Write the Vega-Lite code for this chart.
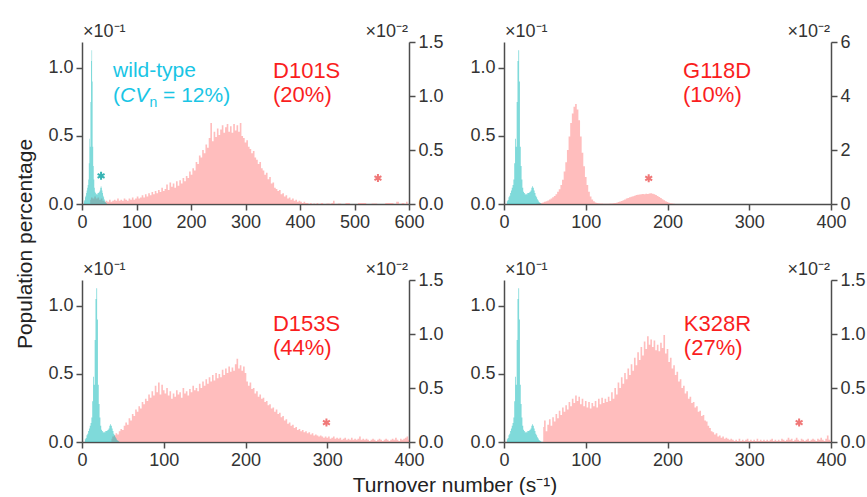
{
"$schema": "https://vega.github.io/schema/vega-lite/v6.json",
"padding": {"left": 14, "top": 23, "right": 0, "bottom": 0},
"background": "white",
"config": {
  "font": "Liberation Sans",
  "view": {"stroke": null},
  "axis": {"grid": false, "domainColor": "#4d4d4d", "domainWidth": 1.5, "tickColor": "#4d4d4d", "tickWidth": 1.5, "tickSize": 6, "labelFont": "Liberation Sans", "labelFontSize": 18, "labelColor": "#333333", "labelPadding": 3, "labelFlush": false, "labelOverlap": false, "titleFont": "Liberation Sans", "titleFontSize": 21, "titleFontWeight": "normal", "titleColor": "#222222"}
},
"datasets": {
"wt": [{"x":3,"y":0},{"x":4,"y":0.02},{"x":5,"y":0.03},{"x":6,"y":0.05},{"x":7,"y":0.06},{"x":8,"y":0.08},{"x":9,"y":0.1},{"x":10,"y":0.12},{"x":11,"y":0.14},{"x":12,"y":0.18},{"x":13,"y":0.3},{"x":14,"y":0.48},{"x":15,"y":0.42},{"x":16,"y":0.75},{"x":17,"y":1.05},{"x":18,"y":1.13},{"x":19,"y":0.9},{"x":20,"y":0.42},{"x":21,"y":0.28},{"x":22,"y":0.18},{"x":23,"y":0.12},{"x":24,"y":0.09},{"x":25,"y":0.08},{"x":26,"y":0.07},{"x":27,"y":0.075},{"x":28,"y":0.07},{"x":29,"y":0.08},{"x":30,"y":0.08},{"x":31,"y":0.085},{"x":32,"y":0.09},{"x":33,"y":0.1},{"x":34,"y":0.12},{"x":35,"y":0.13},{"x":36,"y":0.12},{"x":37,"y":0.1},{"x":38,"y":0.08},{"x":39,"y":0.06},{"x":40,"y":0.05},{"x":41,"y":0.035},{"x":42,"y":0.025},{"x":43,"y":0.015},{"x":44,"y":0.01},{"x":45,"y":0.005},{"x":46,"y":0}],
"d101s": [{"x":15,"y":0.04},{"x":18,"y":0.06},{"x":21,"y":0.05},{"x":24,"y":0.07},{"x":27,"y":0.05},{"x":30,"y":0.06},{"x":33,"y":0.04},{"x":36,"y":0.05},{"x":39,"y":0.03},{"x":42,"y":0.02},{"x":45,"y":0.03},{"x":48,"y":0.02},{"x":51,"y":0.04},{"x":54,"y":0.02},{"x":57,"y":0.03},{"x":60,"y":0.04},{"x":63,"y":0.03},{"x":66,"y":0.05},{"x":69,"y":0.03},{"x":72,"y":0.04},{"x":75,"y":0.03},{"x":78,"y":0.05},{"x":81,"y":0.04},{"x":84,"y":0.03},{"x":87,"y":0.05},{"x":90,"y":0.04},{"x":93,"y":0.06},{"x":96,"y":0.04},{"x":99,"y":0.05},{"x":102,"y":0.07},{"x":105,"y":0.05},{"x":108,"y":0.06},{"x":111,"y":0.08},{"x":114,"y":0.06},{"x":117,"y":0.09},{"x":120,"y":0.07},{"x":123,"y":0.1},{"x":126,"y":0.08},{"x":129,"y":0.11},{"x":132,"y":0.09},{"x":135,"y":0.12},{"x":138,"y":0.1},{"x":141,"y":0.13},{"x":144,"y":0.11},{"x":147,"y":0.15},{"x":150,"y":0.12},{"x":153,"y":0.14},{"x":156,"y":0.18},{"x":159,"y":0.13},{"x":162,"y":0.2},{"x":165,"y":0.16},{"x":168,"y":0.19},{"x":171,"y":0.15},{"x":174,"y":0.21},{"x":177,"y":0.17},{"x":180,"y":0.22},{"x":183,"y":0.19},{"x":186,"y":0.24},{"x":189,"y":0.21},{"x":192,"y":0.26},{"x":195,"y":0.24},{"x":198,"y":0.3},{"x":201,"y":0.27},{"x":204,"y":0.33},{"x":207,"y":0.31},{"x":210,"y":0.39},{"x":213,"y":0.37},{"x":216,"y":0.45},{"x":219,"y":0.43},{"x":222,"y":0.5},{"x":225,"y":0.47},{"x":228,"y":0.55},{"x":231,"y":0.52},{"x":234,"y":0.61},{"x":237,"y":0.75},{"x":240,"y":0.58},{"x":243,"y":0.67},{"x":246,"y":0.62},{"x":249,"y":0.7},{"x":252,"y":0.64},{"x":255,"y":0.69},{"x":258,"y":0.73},{"x":261,"y":0.66},{"x":264,"y":0.71},{"x":267,"y":0.74},{"x":270,"y":0.67},{"x":273,"y":0.72},{"x":276,"y":0.66},{"x":279,"y":0.74},{"x":282,"y":0.68},{"x":285,"y":0.73},{"x":288,"y":0.67},{"x":291,"y":0.75},{"x":294,"y":0.63},{"x":297,"y":0.61},{"x":300,"y":0.57},{"x":303,"y":0.59},{"x":306,"y":0.53},{"x":309,"y":0.51},{"x":312,"y":0.47},{"x":315,"y":0.49},{"x":318,"y":0.43},{"x":321,"y":0.41},{"x":324,"y":0.37},{"x":327,"y":0.39},{"x":330,"y":0.33},{"x":333,"y":0.31},{"x":336,"y":0.27},{"x":339,"y":0.29},{"x":342,"y":0.23},{"x":345,"y":0.25},{"x":348,"y":0.19},{"x":351,"y":0.2},{"x":354,"y":0.15},{"x":357,"y":0.14},{"x":360,"y":0.12},{"x":363,"y":0.13},{"x":366,"y":0.09},{"x":369,"y":0.1},{"x":372,"y":0.07},{"x":375,"y":0.08},{"x":378,"y":0.05},{"x":381,"y":0.06},{"x":384,"y":0.04},{"x":387,"y":0.05},{"x":390,"y":0.03},{"x":393,"y":0.04},{"x":396,"y":0.02},{"x":399,"y":0.03},{"x":402,"y":0.02},{"x":405,"y":0.01},{"x":408,"y":0.02},{"x":411,"y":0.01},{"x":414,"y":0.01},{"x":417,"y":0},{"x":420,"y":0.01},{"x":423,"y":0},{"x":426,"y":0.005},{"x":429,"y":0},{"x":432,"y":0.01},{"x":435,"y":0},{"x":441,"y":0.01},{"x":444,"y":0},{"x":453,"y":0.005},{"x":456,"y":0},{"x":459,"y":0.01},{"x":462,"y":0.03},{"x":465,"y":0},{"x":474,"y":0.005},{"x":477,"y":0},{"x":490,"y":0.01},{"x":493,"y":0},{"x":520,"y":0.01},{"x":523,"y":0},{"x":540,"y":0.005},{"x":543,"y":0},{"x":570,"y":0.01},{"x":573,"y":0},{"x":580,"y":0.02},{"x":583,"y":0},{"x":590,"y":0.01},{"x":593,"y":0},{"x":596,"y":0.02},{"x":599,"y":0}],
"g118d": [{"x":40,"y":0.01},{"x":42,"y":0.02},{"x":44,"y":0.03},{"x":46,"y":0.04},{"x":48,"y":0.06},{"x":50,"y":0.08},{"x":52,"y":0.1},{"x":54,"y":0.13},{"x":56,"y":0.17},{"x":58,"y":0.2},{"x":60,"y":0.25},{"x":62,"y":0.3},{"x":64,"y":0.36},{"x":66,"y":0.45},{"x":68,"y":0.55},{"x":70,"y":0.7},{"x":72,"y":0.9},{"x":74,"y":1.2},{"x":76,"y":1.55},{"x":78,"y":2.0},{"x":80,"y":2.5},{"x":82,"y":3.0},{"x":84,"y":3.35},{"x":86,"y":3.6},{"x":88,"y":3.7},{"x":90,"y":3.5},{"x":92,"y":3.1},{"x":94,"y":2.5},{"x":96,"y":1.9},{"x":98,"y":1.4},{"x":100,"y":1.0},{"x":102,"y":0.7},{"x":104,"y":0.45},{"x":106,"y":0.28},{"x":108,"y":0.17},{"x":110,"y":0.1},{"x":112,"y":0.06},{"x":114,"y":0.04},{"x":116,"y":0.03},{"x":118,"y":0.02},{"x":120,"y":0.02},{"x":122,"y":0.01},{"x":124,"y":0.01},{"x":126,"y":0.01},{"x":128,"y":0.01},{"x":130,"y":0.02},{"x":132,"y":0.02},{"x":134,"y":0.03},{"x":136,"y":0.04},{"x":138,"y":0.05},{"x":140,"y":0.07},{"x":142,"y":0.09},{"x":144,"y":0.11},{"x":146,"y":0.14},{"x":148,"y":0.17},{"x":150,"y":0.2},{"x":152,"y":0.22},{"x":154,"y":0.25},{"x":156,"y":0.27},{"x":158,"y":0.29},{"x":160,"y":0.31},{"x":162,"y":0.33},{"x":164,"y":0.34},{"x":166,"y":0.35},{"x":168,"y":0.36},{"x":170,"y":0.37},{"x":172,"y":0.36},{"x":174,"y":0.38},{"x":176,"y":0.37},{"x":178,"y":0.39},{"x":180,"y":0.4},{"x":182,"y":0.38},{"x":184,"y":0.36},{"x":186,"y":0.33},{"x":188,"y":0.3},{"x":190,"y":0.26},{"x":192,"y":0.22},{"x":194,"y":0.18},{"x":196,"y":0.14},{"x":198,"y":0.1},{"x":200,"y":0.07},{"x":202,"y":0.05},{"x":204,"y":0.03},{"x":206,"y":0.02},{"x":208,"y":0.01},{"x":210,"y":0}],
"d153s": [{"x":36,"y":0.03},{"x":38,"y":0.05},{"x":40,"y":0.06},{"x":42,"y":0.08},{"x":44,"y":0.07},{"x":46,"y":0.1},{"x":48,"y":0.12},{"x":50,"y":0.11},{"x":52,"y":0.15},{"x":54,"y":0.18},{"x":56,"y":0.16},{"x":58,"y":0.22},{"x":60,"y":0.2},{"x":62,"y":0.26},{"x":64,"y":0.24},{"x":66,"y":0.3},{"x":68,"y":0.28},{"x":70,"y":0.33},{"x":72,"y":0.31},{"x":74,"y":0.37},{"x":76,"y":0.35},{"x":78,"y":0.4},{"x":80,"y":0.38},{"x":82,"y":0.44},{"x":84,"y":0.41},{"x":86,"y":0.47},{"x":88,"y":0.43},{"x":90,"y":0.52},{"x":92,"y":0.46},{"x":94,"y":0.55},{"x":96,"y":0.44},{"x":98,"y":0.53},{"x":100,"y":0.48},{"x":102,"y":0.45},{"x":104,"y":0.5},{"x":106,"y":0.43},{"x":108,"y":0.47},{"x":110,"y":0.4},{"x":112,"y":0.45},{"x":114,"y":0.42},{"x":116,"y":0.48},{"x":118,"y":0.44},{"x":120,"y":0.46},{"x":122,"y":0.41},{"x":124,"y":0.5},{"x":126,"y":0.45},{"x":128,"y":0.47},{"x":130,"y":0.43},{"x":132,"y":0.49},{"x":134,"y":0.46},{"x":136,"y":0.52},{"x":138,"y":0.48},{"x":140,"y":0.5},{"x":142,"y":0.47},{"x":144,"y":0.54},{"x":146,"y":0.5},{"x":148,"y":0.56},{"x":150,"y":0.52},{"x":152,"y":0.58},{"x":154,"y":0.54},{"x":156,"y":0.6},{"x":158,"y":0.56},{"x":160,"y":0.62},{"x":162,"y":0.57},{"x":164,"y":0.64},{"x":166,"y":0.59},{"x":168,"y":0.63},{"x":170,"y":0.6},{"x":172,"y":0.67},{"x":174,"y":0.62},{"x":176,"y":0.68},{"x":178,"y":0.64},{"x":180,"y":0.7},{"x":182,"y":0.65},{"x":184,"y":0.69},{"x":186,"y":0.66},{"x":188,"y":0.72},{"x":190,"y":0.77},{"x":192,"y":0.68},{"x":194,"y":0.71},{"x":196,"y":0.66},{"x":198,"y":0.7},{"x":200,"y":0.64},{"x":202,"y":0.56},{"x":204,"y":0.52},{"x":206,"y":0.55},{"x":208,"y":0.49},{"x":210,"y":0.5},{"x":212,"y":0.45},{"x":214,"y":0.47},{"x":216,"y":0.42},{"x":218,"y":0.44},{"x":220,"y":0.4},{"x":222,"y":0.41},{"x":224,"y":0.37},{"x":226,"y":0.38},{"x":228,"y":0.34},{"x":230,"y":0.35},{"x":232,"y":0.31},{"x":234,"y":0.32},{"x":236,"y":0.28},{"x":238,"y":0.3},{"x":240,"y":0.26},{"x":242,"y":0.27},{"x":244,"y":0.23},{"x":246,"y":0.24},{"x":248,"y":0.2},{"x":250,"y":0.21},{"x":252,"y":0.17},{"x":254,"y":0.18},{"x":256,"y":0.15},{"x":258,"y":0.16},{"x":260,"y":0.13},{"x":262,"y":0.14},{"x":264,"y":0.11},{"x":266,"y":0.12},{"x":268,"y":0.1},{"x":270,"y":0.11},{"x":272,"y":0.09},{"x":274,"y":0.1},{"x":276,"y":0.08},{"x":278,"y":0.09},{"x":280,"y":0.07},{"x":282,"y":0.08},{"x":284,"y":0.06},{"x":286,"y":0.07},{"x":288,"y":0.06},{"x":290,"y":0.05},{"x":292,"y":0.06},{"x":294,"y":0.05},{"x":296,"y":0.04},{"x":298,"y":0.05},{"x":300,"y":0.04},{"x":302,"y":0.05},{"x":304,"y":0.03},{"x":306,"y":0.04},{"x":308,"y":0.05},{"x":310,"y":0.03},{"x":312,"y":0.04},{"x":314,"y":0.03},{"x":316,"y":0.04},{"x":318,"y":0.02},{"x":320,"y":0.03},{"x":322,"y":0.04},{"x":324,"y":0.02},{"x":326,"y":0.03},{"x":328,"y":0.02},{"x":330,"y":0.04},{"x":332,"y":0.02},{"x":334,"y":0.03},{"x":336,"y":0.02},{"x":338,"y":0.03},{"x":340,"y":0.05},{"x":342,"y":0.02},{"x":344,"y":0.03},{"x":346,"y":0.02},{"x":348,"y":0.03},{"x":350,"y":0.02},{"x":352,"y":0.01},{"x":354,"y":0.02},{"x":356,"y":0.03},{"x":358,"y":0.02},{"x":360,"y":0.01},{"x":362,"y":0.02},{"x":364,"y":0.03},{"x":366,"y":0.02},{"x":368,"y":0.01},{"x":370,"y":0.02},{"x":372,"y":0.03},{"x":374,"y":0.02},{"x":376,"y":0.01},{"x":378,"y":0.02},{"x":380,"y":0.03},{"x":382,"y":0.02},{"x":384,"y":0.04},{"x":386,"y":0.02},{"x":388,"y":0.01},{"x":390,"y":0.03},{"x":392,"y":0.02},{"x":394,"y":0.03},{"x":396,"y":0.04},{"x":398,"y":0.05},{"x":400,"y":0.02}],
"k328r": [{"x":48,"y":0.14},{"x":50,"y":0.2},{"x":52,"y":0.1},{"x":54,"y":0.16},{"x":56,"y":0.21},{"x":58,"y":0.15},{"x":60,"y":0.23},{"x":62,"y":0.19},{"x":64,"y":0.26},{"x":66,"y":0.22},{"x":68,"y":0.29},{"x":70,"y":0.25},{"x":72,"y":0.32},{"x":74,"y":0.28},{"x":76,"y":0.34},{"x":78,"y":0.3},{"x":80,"y":0.37},{"x":82,"y":0.33},{"x":84,"y":0.4},{"x":86,"y":0.36},{"x":88,"y":0.43},{"x":90,"y":0.38},{"x":92,"y":0.42},{"x":94,"y":0.35},{"x":96,"y":0.4},{"x":98,"y":0.33},{"x":100,"y":0.38},{"x":102,"y":0.32},{"x":104,"y":0.37},{"x":106,"y":0.31},{"x":108,"y":0.36},{"x":110,"y":0.33},{"x":112,"y":0.38},{"x":114,"y":0.32},{"x":116,"y":0.4},{"x":118,"y":0.35},{"x":120,"y":0.41},{"x":122,"y":0.36},{"x":124,"y":0.4},{"x":126,"y":0.37},{"x":128,"y":0.42},{"x":130,"y":0.38},{"x":132,"y":0.46},{"x":134,"y":0.4},{"x":136,"y":0.5},{"x":138,"y":0.44},{"x":140,"y":0.55},{"x":142,"y":0.5},{"x":144,"y":0.6},{"x":146,"y":0.54},{"x":148,"y":0.64},{"x":150,"y":0.58},{"x":152,"y":0.68},{"x":154,"y":0.62},{"x":156,"y":0.72},{"x":158,"y":0.66},{"x":160,"y":0.78},{"x":162,"y":0.71},{"x":164,"y":0.83},{"x":166,"y":0.76},{"x":168,"y":0.88},{"x":170,"y":0.8},{"x":172,"y":0.93},{"x":174,"y":0.86},{"x":176,"y":0.98},{"x":178,"y":0.9},{"x":180,"y":0.95},{"x":182,"y":0.88},{"x":184,"y":0.94},{"x":186,"y":0.85},{"x":188,"y":0.9},{"x":190,"y":0.84},{"x":192,"y":0.92},{"x":194,"y":0.87},{"x":196,"y":0.99},{"x":198,"y":0.82},{"x":200,"y":0.86},{"x":202,"y":0.74},{"x":204,"y":0.78},{"x":206,"y":0.68},{"x":208,"y":0.71},{"x":210,"y":0.62},{"x":212,"y":0.65},{"x":214,"y":0.56},{"x":216,"y":0.58},{"x":218,"y":0.5},{"x":220,"y":0.52},{"x":222,"y":0.45},{"x":224,"y":0.47},{"x":226,"y":0.4},{"x":228,"y":0.42},{"x":230,"y":0.36},{"x":232,"y":0.37},{"x":234,"y":0.32},{"x":236,"y":0.33},{"x":238,"y":0.28},{"x":240,"y":0.29},{"x":242,"y":0.24},{"x":244,"y":0.25},{"x":246,"y":0.2},{"x":248,"y":0.19},{"x":250,"y":0.15},{"x":252,"y":0.13},{"x":254,"y":0.1},{"x":256,"y":0.09},{"x":258,"y":0.07},{"x":260,"y":0.08},{"x":262,"y":0.05},{"x":264,"y":0.06},{"x":266,"y":0.04},{"x":268,"y":0.05},{"x":270,"y":0.03},{"x":272,"y":0.04},{"x":274,"y":0.03},{"x":276,"y":0.02},{"x":278,"y":0.03},{"x":280,"y":0.02},{"x":282,"y":0.01},{"x":284,"y":0.02},{"x":286,"y":0.01},{"x":288,"y":0.03},{"x":290,"y":0.01},{"x":292,"y":0.02},{"x":294,"y":0.01},{"x":296,"y":0.02},{"x":298,"y":0.03},{"x":300,"y":0.01},{"x":302,"y":0.02},{"x":304,"y":0.01},{"x":306,"y":0.02},{"x":308,"y":0.01},{"x":310,"y":0.03},{"x":312,"y":0.01},{"x":314,"y":0.02},{"x":316,"y":0.01},{"x":318,"y":0.02},{"x":320,"y":0.01},{"x":322,"y":0.02},{"x":324,"y":0.01},{"x":326,"y":0.02},{"x":328,"y":0.03},{"x":330,"y":0.01},{"x":332,"y":0.02},{"x":334,"y":0.01},{"x":336,"y":0.02},{"x":338,"y":0.01},{"x":340,"y":0.03},{"x":342,"y":0.02},{"x":344,"y":0.01},{"x":346,"y":0.02},{"x":348,"y":0.04},{"x":350,"y":0.02},{"x":352,"y":0.03},{"x":354,"y":0.01},{"x":356,"y":0.02},{"x":358,"y":0.04},{"x":360,"y":0.02},{"x":362,"y":0.01},{"x":364,"y":0.03},{"x":366,"y":0.02},{"x":368,"y":0.01},{"x":370,"y":0.02},{"x":372,"y":0.03},{"x":374,"y":0.01},{"x":376,"y":0.02},{"x":378,"y":0.03},{"x":380,"y":0.02},{"x":382,"y":0.01},{"x":384,"y":0.03},{"x":386,"y":0.02},{"x":388,"y":0.04},{"x":390,"y":0.02},{"x":392,"y":0.01},{"x":394,"y":0.03},{"x":396,"y":0.06},{"x":398,"y":0.02},{"x":400,"y":0.01}]
},
"columns": 2,
"spacing": {"row": 76, "column": 95},
"bounds": "flush",
"concat": [
{
  "width": 327, "height": 162,
  "resolve": {"scale": {"y": "independent"}},
  "layer": [
    {"layer": [
      {"data": {"name": "d101s"}, "mark": {"type": "area", "interpolate": "step", "color": "#ff7b7b", "opacity": 0.5},
       "encoding": {
         "x": {"field": "x", "type": "quantitative", "scale": {"domain": [0, 600], "nice": false}, "axis": {"values": [0,100,200,300,400,500,600], "title": null}},
         "y": {"field": "y", "type": "quantitative", "scale": {"domain": [0, 1.5], "nice": false}, "axis": {"orient": "right", "values": [0,0.5,1,1.5], "format": ".1f", "title": null}}}},
      {"data": {"values": [{}]}, "mark": {"type": "text", "align": "right", "baseline": "alphabetic", "fontSize": 18, "color": "#333333", "dy": -5, "dx": -1},
       "encoding": {"x": {"datum": 600, "type": "quantitative"}, "y": {"datum": 1.5, "type": "quantitative"}, "text": {"value": "×10⁻²"}}},
      {"data": {"values": [{}]}, "mark": {"type": "point", "shape": "M0,-1L0,1M-0.866,-0.5L0.866,0.5M-0.866,0.5L0.866,-0.5", "filled": false, "stroke": "#f07878", "strokeWidth": 2, "size": 64, "opacity": 1},
       "encoding": {"x": {"datum": 543, "type": "quantitative"}, "y": {"datum": 0.24, "type": "quantitative"}}}
    ]},
    {"layer": [
      {"data": {"name": "wt"}, "mark": {"type": "area", "interpolate": "step", "color": "#00b5b5", "opacity": 0.5},
       "encoding": {
         "x": {"field": "x", "type": "quantitative"},
         "y": {"field": "y", "type": "quantitative", "scale": {"domain": [0, 1.19], "nice": false}, "axis": {"orient": "left", "values": [0,0.5,1], "format": ".1f", "title": "Population percentage", "titleAngle": -90, "titleX": -51, "titleY": 201.5, "titleAlign": "center", "titleBaseline": "alphabetic"}}}},
      {"data": {"values": [{}]}, "mark": {"type": "text", "align": "left", "baseline": "alphabetic", "fontSize": 18, "color": "#333333", "dy": -5, "dx": 1},
       "encoding": {"x": {"datum": 0, "type": "quantitative"}, "y": {"datum": 1.19, "type": "quantitative"}, "text": {"value": "×10⁻¹"}}},
      {"data": {"values": [{}]}, "mark": {"type": "text", "align": "left", "baseline": "alphabetic", "fontSize": 21, "color": "#19c5e5"},
       "encoding": {"x": {"datum": 57, "type": "quantitative"}, "y": {"datum": 0.933, "type": "quantitative"}, "text": {"value": "wild-type"}}},
      {"data": {"values": [{}]}, "mark": {"type": "text", "align": "left", "baseline": "alphabetic", "fontSize": 21, "color": "#19c5e5"},
       "encoding": {"x": {"datum": 57, "type": "quantitative"}, "y": {"datum": 0.752, "type": "quantitative"}, "text": {"value": "("}}},
      {"data": {"values": [{}]}, "mark": {"type": "text", "align": "left", "baseline": "alphabetic", "fontSize": 21, "fontStyle": "italic", "color": "#19c5e5", "dx": 7},
       "encoding": {"x": {"datum": 57, "type": "quantitative"}, "y": {"datum": 0.752, "type": "quantitative"}, "text": {"value": "CV"}}},
      {"data": {"values": [{}]}, "mark": {"type": "text", "align": "left", "baseline": "alphabetic", "fontSize": 14, "color": "#19c5e5", "dx": 36.5, "dy": 5},
       "encoding": {"x": {"datum": 57, "type": "quantitative"}, "y": {"datum": 0.752, "type": "quantitative"}, "text": {"value": "n"}}},
      {"data": {"values": [{}]}, "mark": {"type": "text", "align": "left", "baseline": "alphabetic", "fontSize": 21, "color": "#19c5e5", "dx": 50},
       "encoding": {"x": {"datum": 57, "type": "quantitative"}, "y": {"datum": 0.752, "type": "quantitative"}, "text": {"value": "= 12%)"}}},
      {"data": {"values": [{}]}, "mark": {"type": "text", "align": "left", "baseline": "alphabetic", "fontSize": 22, "color": "#fa1e1e", "lineHeight": 24},
       "encoding": {"x": {"datum": 350.5, "type": "quantitative"}, "y": {"datum": 0.926, "type": "quantitative"}, "text": {"value": ["D101S", "(20%)"]}}},
      {"data": {"values": [{}]}, "mark": {"type": "point", "shape": "M0,-1L0,1M-0.866,-0.5L0.866,0.5M-0.866,0.5L0.866,-0.5", "filled": false, "stroke": "#36b4b4", "strokeWidth": 2, "size": 64, "opacity": 1},
       "encoding": {"x": {"datum": 35, "type": "quantitative"}, "y": {"datum": 0.207, "type": "quantitative"}}}
    ]}
  ]
},
{
  "width": 327, "height": 162,
  "resolve": {"scale": {"y": "independent"}},
  "layer": [
    {"layer": [
      {"data": {"name": "g118d"}, "mark": {"type": "area", "interpolate": "step", "color": "#ff7b7b", "opacity": 0.5},
       "encoding": {
         "x": {"field": "x", "type": "quantitative", "scale": {"domain": [0, 400], "nice": false}, "axis": {"values": [0,100,200,300,400], "title": null}},
         "y": {"field": "y", "type": "quantitative", "scale": {"domain": [0, 6], "nice": false}, "axis": {"orient": "right", "values": [0,2,4,6], "format": "d", "title": null}}}},
      {"data": {"values": [{}]}, "mark": {"type": "text", "align": "right", "baseline": "alphabetic", "fontSize": 18, "color": "#333333", "dy": -5, "dx": -1},
       "encoding": {"x": {"datum": 400, "type": "quantitative"}, "y": {"datum": 6, "type": "quantitative"}, "text": {"value": "×10⁻²"}}},
      {"data": {"values": [{}]}, "mark": {"type": "point", "shape": "M0,-1L0,1M-0.866,-0.5L0.866,0.5M-0.866,0.5L0.866,-0.5", "filled": false, "stroke": "#f07878", "strokeWidth": 2, "size": 64, "opacity": 1},
       "encoding": {"x": {"datum": 177, "type": "quantitative"}, "y": {"datum": 0.95, "type": "quantitative"}}}
    ]},
    {"layer": [
      {"data": {"name": "wt"}, "mark": {"type": "area", "interpolate": "step", "color": "#00b5b5", "opacity": 0.5},
       "encoding": {
         "x": {"field": "x", "type": "quantitative"},
         "y": {"field": "y", "type": "quantitative", "scale": {"domain": [0, 1.19], "nice": false}, "axis": {"orient": "left", "values": [0,0.5,1], "format": ".1f", "title": null}}}},
      {"data": {"values": [{}]}, "mark": {"type": "text", "align": "left", "baseline": "alphabetic", "fontSize": 18, "color": "#333333", "dy": -5, "dx": 1},
       "encoding": {"x": {"datum": 0, "type": "quantitative"}, "y": {"datum": 1.19, "type": "quantitative"}, "text": {"value": "×10⁻¹"}}},
      {"data": {"values": [{}]}, "mark": {"type": "text", "align": "left", "baseline": "alphabetic", "fontSize": 22, "color": "#fa1e1e", "lineHeight": 24},
       "encoding": {"x": {"datum": 219, "type": "quantitative"}, "y": {"datum": 0.926, "type": "quantitative"}, "text": {"value": ["G118D", "(10%)"]}}}
    ]}
  ]
},
{
  "width": 327, "height": 162,
  "resolve": {"scale": {"y": "independent"}},
  "layer": [
    {"layer": [
      {"data": {"name": "d153s"}, "mark": {"type": "area", "interpolate": "step", "color": "#ff7b7b", "opacity": 0.5},
       "encoding": {
         "x": {"field": "x", "type": "quantitative", "scale": {"domain": [0, 400], "nice": false}, "axis": {"values": [0,100,200,300,400], "title": "Turnover number (s⁻¹)", "titleX": 372.5, "titleY": 49, "titleAlign": "center", "titleBaseline": "alphabetic"}},
         "y": {"field": "y", "type": "quantitative", "scale": {"domain": [0, 1.5], "nice": false}, "axis": {"orient": "right", "values": [0,0.5,1,1.5], "format": ".1f", "title": null}}}},
      {"data": {"values": [{}]}, "mark": {"type": "text", "align": "right", "baseline": "alphabetic", "fontSize": 18, "color": "#333333", "dy": -5, "dx": -1},
       "encoding": {"x": {"datum": 400, "type": "quantitative"}, "y": {"datum": 1.5, "type": "quantitative"}, "text": {"value": "×10⁻²"}}},
      {"data": {"values": [{}]}, "mark": {"type": "point", "shape": "M0,-1L0,1M-0.866,-0.5L0.866,0.5M-0.866,0.5L0.866,-0.5", "filled": false, "stroke": "#f07878", "strokeWidth": 2, "size": 64, "opacity": 1},
       "encoding": {"x": {"datum": 299, "type": "quantitative"}, "y": {"datum": 0.18, "type": "quantitative"}}}
    ]},
    {"layer": [
      {"data": {"name": "wt"}, "mark": {"type": "area", "interpolate": "step", "color": "#00b5b5", "opacity": 0.5},
       "encoding": {
         "x": {"field": "x", "type": "quantitative"},
         "y": {"field": "y", "type": "quantitative", "scale": {"domain": [0, 1.19], "nice": false}, "axis": {"orient": "left", "values": [0,0.5,1], "format": ".1f", "title": null}}}},
      {"data": {"values": [{}]}, "mark": {"type": "text", "align": "left", "baseline": "alphabetic", "fontSize": 18, "color": "#333333", "dy": -5, "dx": 1},
       "encoding": {"x": {"datum": 0, "type": "quantitative"}, "y": {"datum": 1.19, "type": "quantitative"}, "text": {"value": "×10⁻¹"}}},
      {"data": {"values": [{}]}, "mark": {"type": "text", "align": "left", "baseline": "alphabetic", "fontSize": 22, "color": "#fa1e1e", "lineHeight": 24},
       "encoding": {"x": {"datum": 233.6, "type": "quantitative"}, "y": {"datum": 0.814, "type": "quantitative"}, "text": {"value": ["D153S", "(44%)"]}}}
    ]}
  ]
},
{
  "width": 327, "height": 162,
  "resolve": {"scale": {"y": "independent"}},
  "layer": [
    {"layer": [
      {"data": {"name": "k328r"}, "mark": {"type": "area", "interpolate": "step", "color": "#ff7b7b", "opacity": 0.5},
       "encoding": {
         "x": {"field": "x", "type": "quantitative", "scale": {"domain": [0, 400], "nice": false}, "axis": {"values": [0,100,200,300,400], "title": null}},
         "y": {"field": "y", "type": "quantitative", "scale": {"domain": [0, 1.5], "nice": false}, "axis": {"orient": "right", "values": [0,0.5,1,1.5], "format": ".1f", "title": null}}}},
      {"data": {"values": [{}]}, "mark": {"type": "text", "align": "right", "baseline": "alphabetic", "fontSize": 18, "color": "#333333", "dy": -5, "dx": -1},
       "encoding": {"x": {"datum": 400, "type": "quantitative"}, "y": {"datum": 1.5, "type": "quantitative"}, "text": {"value": "×10⁻²"}}},
      {"data": {"values": [{}]}, "mark": {"type": "point", "shape": "M0,-1L0,1M-0.866,-0.5L0.866,0.5M-0.866,0.5L0.866,-0.5", "filled": false, "stroke": "#f07878", "strokeWidth": 2, "size": 64, "opacity": 1},
       "encoding": {"x": {"datum": 361, "type": "quantitative"}, "y": {"datum": 0.18, "type": "quantitative"}}}
    ]},
    {"layer": [
      {"data": {"name": "wt"}, "mark": {"type": "area", "interpolate": "step", "color": "#00b5b5", "opacity": 0.5},
       "encoding": {
         "x": {"field": "x", "type": "quantitative"},
         "y": {"field": "y", "type": "quantitative", "scale": {"domain": [0, 1.19], "nice": false}, "axis": {"orient": "left", "values": [0,0.5,1], "format": ".1f", "title": null}}}},
      {"data": {"values": [{}]}, "mark": {"type": "text", "align": "left", "baseline": "alphabetic", "fontSize": 18, "color": "#333333", "dy": -5, "dx": 1},
       "encoding": {"x": {"datum": 0, "type": "quantitative"}, "y": {"datum": 1.19, "type": "quantitative"}, "text": {"value": "×10⁻¹"}}},
      {"data": {"values": [{}]}, "mark": {"type": "text", "align": "left", "baseline": "alphabetic", "fontSize": 22, "color": "#fa1e1e", "lineHeight": 24},
       "encoding": {"x": {"datum": 220, "type": "quantitative"}, "y": {"datum": 0.814, "type": "quantitative"}, "text": {"value": ["K328R", "(27%)"]}}}
    ]}
  ]
}
]
}
